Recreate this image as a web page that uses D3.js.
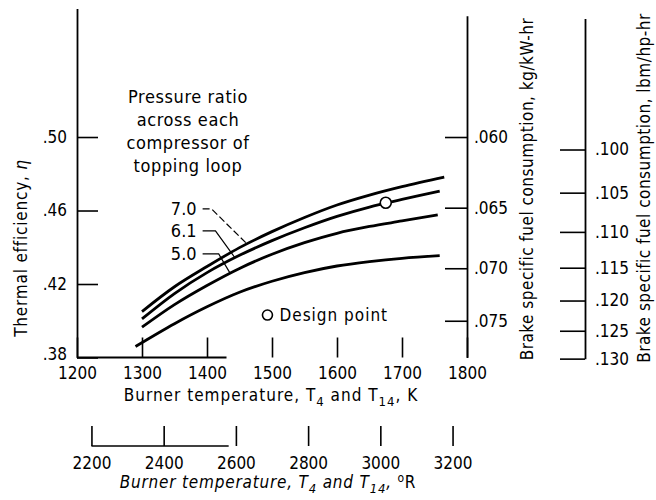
<!DOCTYPE html>
<html>
<head>
<meta charset="utf-8">
<script src="https://cdn.jsdelivr.net/npm/d3@7"></script>
<style>
body { margin: 0; background: #fff; }
svg text { font-family: "Liberation Sans Narrow", "DejaVu Sans Condensed", "Liberation Sans", sans-serif; fill: #000; }
.tick text { font-size: 17px; }
.tick line { stroke: #000; stroke-width: 1.6; }
.domain { stroke: #000; stroke-width: 1.8; }
</style>
</head>
<body>
<svg></svg>
<script>
const width = 656;
const height = 500;

// tick values and labels
const kelvinTicks = [1200, 1300, 1400, 1500, 1600, 1700, 1800];
const rankineTicks = [2200, 2400, 2600, 2800, 3000, 3200];
const effTicks = [0.38, 0.42, 0.46, 0.50];
const effLabels = [".38", ".42", ".46", ".50"];
const kgTicks = [0.060, 0.065, 0.070, 0.075];
const kgLabels = [".060", ".065", ".070", ".075"];
const lbTicks = [0.100, 0.105, 0.110, 0.115, 0.120, 0.125, 0.130];
const lbLabels = [".100", ".105", ".110", ".115", ".120", ".125", ".130"];

// curves, burner temperature (K) vs thermal efficiency
const pr70Temp = [1300, 1350, 1400, 1450, 1500, 1550, 1600, 1650, 1700, 1765];
const pr70Eff = [0.405, 0.4185, 0.4295, 0.4398, 0.4485, 0.4562, 0.4630, 0.4684, 0.4730, 0.4782];
const pr61Temp = [1300, 1350, 1400, 1450, 1500, 1550, 1600, 1650, 1700, 1758];
const pr61Eff = [0.401, 0.4148, 0.4262, 0.4356, 0.4436, 0.4506, 0.4568, 0.4619, 0.4660, 0.4706];
const pr50Temp = [1300, 1350, 1400, 1450, 1500, 1550, 1600, 1650, 1700, 1755];
const pr50Eff = [0.3965, 0.4088, 0.4192, 0.4285, 0.4362, 0.4425, 0.4476, 0.4513, 0.4543, 0.4576];
const lowTemp = [1290, 1350, 1400, 1450, 1500, 1550, 1600, 1650, 1700, 1758];
const lowEff = [0.386, 0.3984, 0.4076, 0.4155, 0.4215, 0.4262, 0.4298, 0.4322, 0.4340, 0.4354];

// design point
const designTemp = 1675;
const designEff = 0.4642;

// curve labels: label position and where the leader meets the curve
const prLabels = ["7.0", "6.1", "5.0"];
const prLabelTemp = [1384, 1384, 1384];
const prLabelEff = [0.4576, 0.4456, 0.4331];
const prKneeTemp = [1407, 1413, 1418];
const prEndTemp = [1461, 1443, 1435];
const prEndEff = [0.4420, 0.4343, 0.4262];

const noteLines = ["Pressure ratio", "across each", "compressor of", "topping loop"];

// fuel consumption conversions: bsfc = k / efficiency
const kgConst = 0.030;
const lbConst = 0.04932;

let xScale = d3.scaleLinear().domain([1200, 1800]).range([77, 467]);
let yScale = d3.scaleLinear().domain([0.38, 0.57]).range([357.5, 8.4]);
let rankScale = d3.scaleLinear().domain([2160, 3240]).range([77, 467]);
let kgScale = d3.scalePow().exponent(-1)
    .domain([kgConst / 0.38, kgConst / 0.566])
    .range([yScale(0.38), yScale(0.566)]);
let lbScale = d3.scalePow().exponent(-1)
    .domain([0.130, lbConst / 0.5645])
    .range([yScale(lbConst / 0.130), yScale(0.5645)]);

let svg = d3.select("svg")
    .attr("width", width)
    .attr("height", height)
    .style("background", "#fff");

//Axes
let yAxisG = svg.append("g")
    .attr("transform", `translate(${xScale(1200)}, 0)`)
    .call(d3.axisLeft(yScale).tickValues(effTicks)
        .tickFormat((d, i) => effLabels[i])
        .tickSize(-21).tickSizeOuter(0).tickPadding(10));
yAxisG.selectAll(".tick text").filter(d => d === 0.38).attr("dy", "0.1em");

svg.append("g")
    .attr("transform", `translate(${xScale(1800)}, 0)`)
    .call(d3.axisRight(kgScale).tickValues(kgTicks)
        .tickFormat((d, i) => kgLabels[i])
        .tickSize(-22).tickSizeOuter(0).tickPadding(7));

svg.append("g")
    .attr("transform", "translate(585, 0)")
    .call(d3.axisRight(lbScale).tickValues(lbTicks)
        .tickFormat((d, i) => lbLabels[i])
        .tickSize(-25).tickSizeOuter(0).tickPadding(10));

let kAxis = svg.append("g")
    .attr("transform", `translate(0, ${yScale(0.38)})`)
    .call(d3.axisBottom(xScale).tickValues(kelvinTicks)
        .tickFormat(d3.format("d"))
        .tickSize(-20).tickSizeOuter(0).tickPadding(9));
kAxis.select(".domain").remove();
kAxis.append("line")
    .attr("x1", xScale(1200)).attr("x2", xScale(1430))
    .attr("stroke", "#000").attr("stroke-width", 1.8);

let rAxis = svg.append("g")
    .attr("transform", "translate(0, 446)")
    .call(d3.axisBottom(rankScale).tickValues(rankineTicks)
        .tickFormat(d3.format("d"))
        .tickSize(-20).tickSizeOuter(0).tickPadding(11));
rAxis.select(".domain").remove();
rAxis.append("line")
    .attr("x1", rankScale(2200)).attr("x2", rankScale(2580))
    .attr("stroke", "#000").attr("stroke-width", 1.6);

//Curves
let line = d3.line()
    .x(d => xScale(d[0]))
    .y(d => yScale(d[1]))
    .curve(d3.curveCatmullRom);

let curves = [
    d3.zip(pr70Temp, pr70Eff),
    d3.zip(pr61Temp, pr61Eff),
    d3.zip(pr50Temp, pr50Eff),
    d3.zip(lowTemp, lowEff)
];
svg.selectAll("path.curve")
    .data(curves)
    .enter()
    .append("path")
        .attr("class", "curve")
        .attr("d", line)
        .attr("fill", "none")
        .attr("stroke", "#000")
        .attr("stroke-width", 2.8);

//Leaders and labels
prLabels.forEach((lab, i) => {
    let ly = yScale(prLabelEff[i]) - 6;
    let lx = xScale(prLabelTemp[i]) + 6;
    svg.append("path")
        .attr("d", `M${lx},${ly}H${xScale(prKneeTemp[i])}L${xScale(prEndTemp[i])},${yScale(prEndEff[i])}`)
        .attr("fill", "none")
        .attr("stroke", "#000")
        .attr("stroke-width", 1.2)
        .attr("stroke-dasharray", i === 0 ? "7,3" : null);
    svg.append("text")
        .attr("x", xScale(prLabelTemp[i]))
        .attr("y", yScale(prLabelEff[i]))
        .attr("text-anchor", "end")
        .style("font-size", "18px")
        .text(lab);
});

svg.selectAll("text.note")
    .data(noteLines)
    .enter()
    .append("text")
        .attr("class", "note")
        .attr("x", 188)
        .attr("y", (d, i) => 103 + i * 23)
        .attr("text-anchor", "middle")
        .style("font-size", "18px")
        .style("letter-spacing", "0.6px")
        .text(d => d);

//Design point
svg.append("circle")
    .attr("cx", xScale(designTemp))
    .attr("cy", yScale(designEff))
    .attr("r", 5.5)
    .attr("fill", "#fff")
    .attr("stroke", "#000")
    .attr("stroke-width", 1.6);

svg.append("circle")
    .attr("cx", xScale(1493))
    .attr("cy", yScale(0.4031))
    .attr("r", 5)
    .attr("fill", "#fff")
    .attr("stroke", "#000")
    .attr("stroke-width", 1.6);
svg.append("text")
    .attr("x", xScale(1493) + 12)
    .attr("y", yScale(0.4031) + 5.5)
    .style("font-size", "17px")
    .style("letter-spacing", "1px")
    .text("Design point");

//Axis titles
let kTitle = svg.append("text")
    .attr("x", 271)
    .attr("y", 401)
    .attr("text-anchor", "middle")
    .style("font-size", "17px")
    .style("letter-spacing", "1px");
kTitle.append("tspan").text("Burner temperature,  T");
kTitle.append("tspan").attr("dy", 5).style("font-size", "13px").text("4");
kTitle.append("tspan").attr("dy", -5).text(" and T");
kTitle.append("tspan").attr("dy", 5).style("font-size", "13px").text("14");
kTitle.append("tspan").attr("dy", -5).text(",  K");

let rTitle = svg.append("text")
    .attr("x", 268)
    .attr("y", 488)
    .attr("text-anchor", "middle")
    .style("font-size", "17px")
    .style("font-style", "italic")
    .style("letter-spacing", "0.8px");
rTitle.append("tspan").text("Burner temperature,  T");
rTitle.append("tspan").attr("dy", 5).style("font-size", "13px").text("4");
rTitle.append("tspan").attr("dy", -5).text(" and T");
rTitle.append("tspan").attr("dy", 5).style("font-size", "13px").text("14");
rTitle.append("tspan").attr("dy", -5).text(",  ");
rTitle.append("tspan").attr("dy", -6).style("font-size", "12px").style("font-style", "normal").text("o");
rTitle.append("tspan").attr("dy", 6).style("font-style", "normal").text("R");

let yTitle = svg.append("text")
    .attr("transform", "translate(27, 248) rotate(-90)")
    .attr("text-anchor", "middle")
    .style("font-size", "17px")
    .style("letter-spacing", "0.8px");
yTitle.append("tspan").text("Thermal efficiency, ");
yTitle.append("tspan").style("font-style", "italic").text("η");

svg.append("text")
    .attr("transform", "translate(533, 189) rotate(-90)")
    .attr("text-anchor", "middle")
    .style("font-size", "17px")
    .style("letter-spacing", "0.5px")
    .text("Brake specific fuel consumption,  kg/kW-hr");

svg.append("text")
    .attr("transform", "translate(650, 188) rotate(-90)")
    .attr("text-anchor", "middle")
    .style("font-size", "17px")
    .style("letter-spacing", "0.5px")
    .text("Brake specific fuel consumption,  lbm/hp-hr");
</script>
</body>
</html>
